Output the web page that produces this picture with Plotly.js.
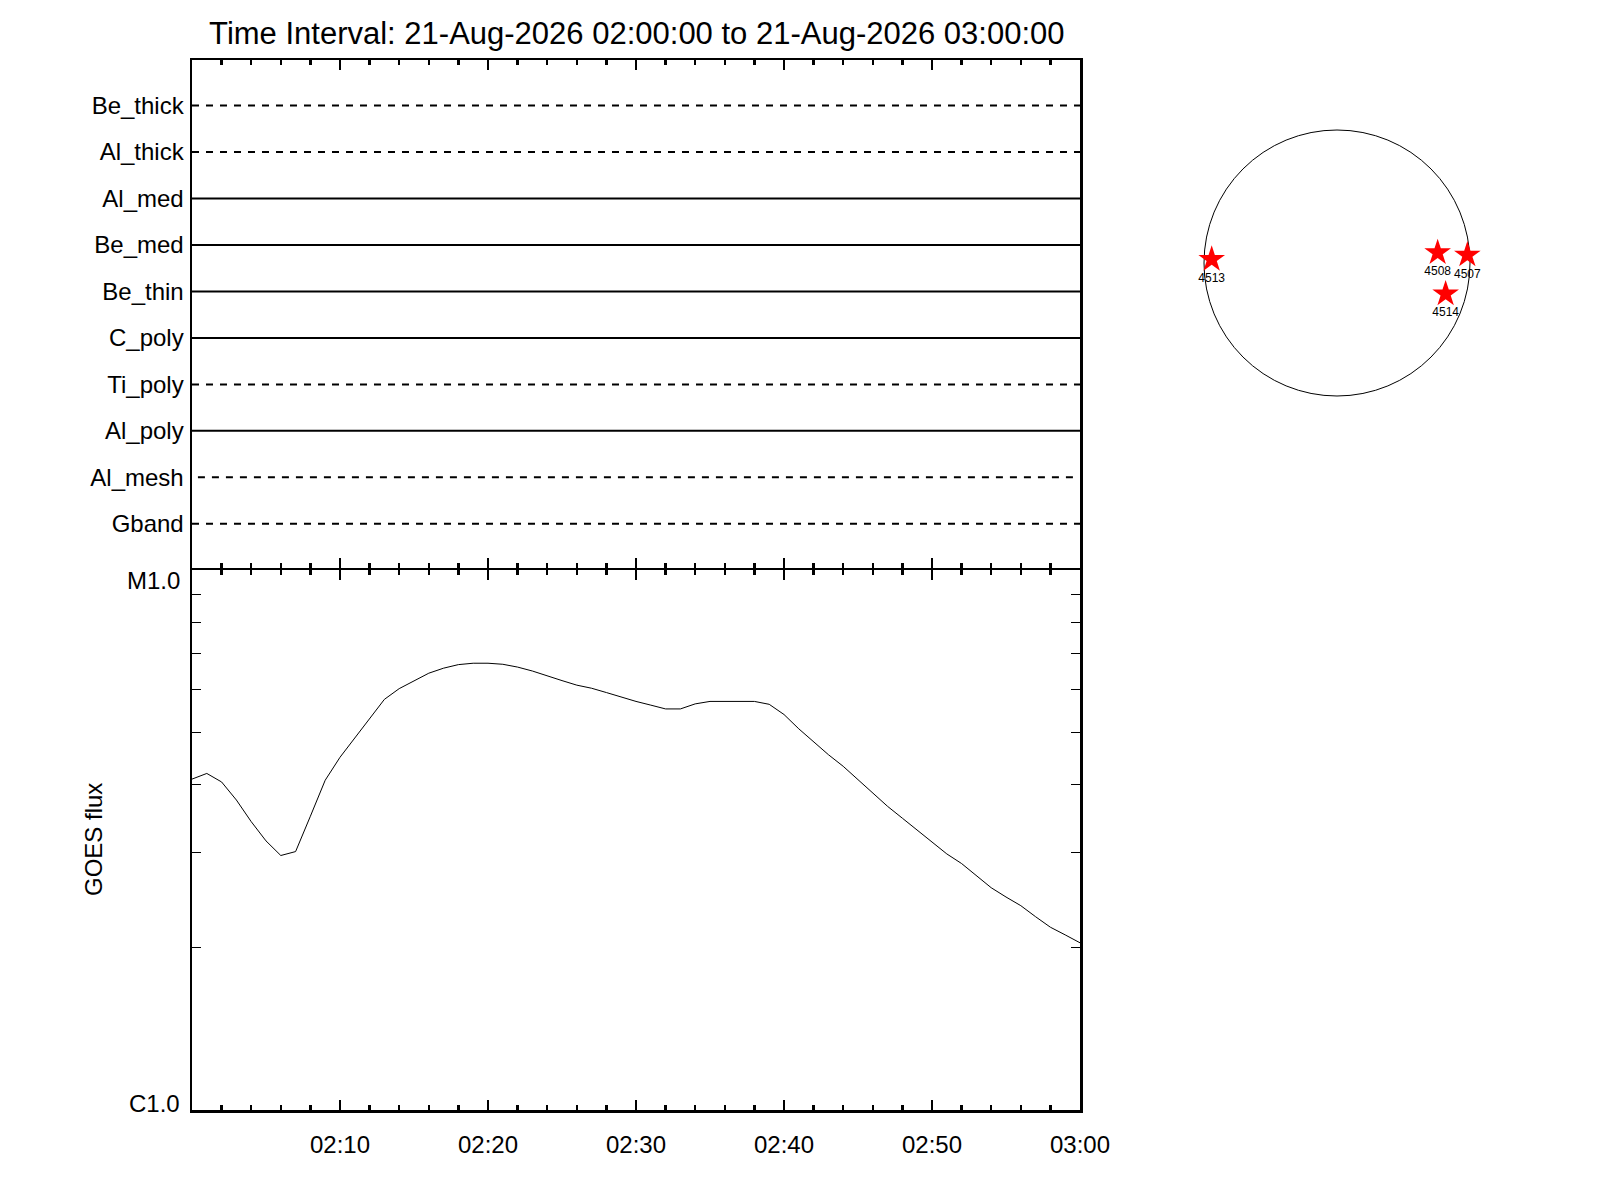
<!DOCTYPE html>
<html>
<head>
<meta charset="utf-8">
<script src="https://cdn.plot.ly/plotly-3.0.1.min.js"></script>
<style>
  html, body { margin: 0; padding: 0; background: #fff; }
  #plot { width: 1600px; height: 1200px; }
</style>
</head>
<body>
<div id="plot"></div>
<script>
// ----- data -----
const detectorNames  = ["Be_thick", "Al_thick", "Al_med", "Be_med", "Be_thin",
                        "C_poly", "Ti_poly", "Al_poly", "Al_mesh", "Gband"];
const detectorStart  = [0, 0, 0, 0, 0, 0, 0, 0, 0.4, 0];    // minutes after 02:00
const detectorEnd    = [60, 60, 60, 60, 60, 60, 60, 60, 59.7, 60];

// GOES flux, one sample per minute after 02:00 (W/m^2)
const goesMinutes = [0, 1, 2, 3, 4, 5, 6, 7, 8, 9, 10, 11, 12, 13, 14, 15, 16, 17, 18, 19,
                     20, 21, 22, 23, 24, 25, 26, 27, 28, 29, 30, 31, 32, 33, 34, 35, 36, 37, 38, 39,
                     40, 41, 42, 43, 44, 45, 46, 47, 48, 49, 50, 51, 52, 53, 54, 55, 56, 57, 58, 59, 60];
const goesFlux = [4.10e-6, 4.20e-6, 4.05e-6, 3.75e-6, 3.42e-6, 3.15e-6, 2.96e-6, 3.01e-6, 3.50e-6, 4.08e-6,
                  4.50e-6, 4.88e-6, 5.32e-6, 5.76e-6, 6.03e-6, 6.24e-6, 6.44e-6, 6.58e-6, 6.68e-6, 6.72e-6,
                  6.72e-6, 6.69e-6, 6.61e-6, 6.50e-6, 6.36e-6, 6.24e-6, 6.12e-6, 6.04e-6, 5.93e-6, 5.81e-6,
                  5.71e-6, 5.62e-6, 5.53e-6, 5.53e-6, 5.65e-6, 5.71e-6, 5.71e-6, 5.71e-6, 5.71e-6, 5.64e-6,
                  5.40e-6, 5.08e-6, 4.80e-6, 4.55e-6, 4.33e-6, 4.09e-6, 3.86e-6, 3.65e-6, 3.47e-6, 3.30e-6,
                  3.13e-6, 2.98e-6, 2.86e-6, 2.72e-6, 2.58e-6, 2.48e-6, 2.39e-6, 2.28e-6, 2.18e-6, 2.11e-6, 2.04e-6];

const majorTickLabels = ["02:10", "02:20", "02:30", "02:40", "02:50", "03:00"];
const minorTickMinutes = [2, 4, 6, 8, 12, 14, 16, 18, 22, 24, 26, 28, 32, 34, 36, 38,
                          42, 44, 46, 48, 52, 54, 56, 58];
const fluxMinorTicks = [2e-6, 3e-6, 4e-6, 5e-6, 6e-6, 7e-6, 8e-6, 9e-6];

// active regions on the disk (arcsec)
const regionIds = ["4513", "4508", "4507", "4514"];
const regionX   = [-895, 719, 931, 776];
const regionY   = [26, 74, 57, -221];
const solarRadius = 950;

// ----- helpers -----
const DAY = "2026-08-21";
const T0 = Date.UTC(2026, 7, 21, 2, 0, 0);
function tAt(min) {
  return new Date(T0 + min * 60000).toISOString().replace("T", " ").slice(0, 19);
}
const FONT = "Liberation Sans, Arial, sans-serif";
const SOLID_DETECTORS = ["Al_med", "Be_med", "Be_thin", "C_poly", "Al_poly"];

// ----- traces -----
const traces = [];

// detector lines (upper panel)
detectorNames.forEach((name, i) => {
  traces.push({
    type: "scatter", mode: "lines",
    x: [tAt(detectorStart[i]), tAt(detectorEnd[i])],
    y: [i, i],
    xaxis: "x2", yaxis: "y2",
    line: { color: "#000", width: 2, dash: SOLID_DETECTORS.includes(name) ? "solid" : "7px,7px" },
    hoverinfo: "skip"
  });
});

// GOES curve (lower panel)
traces.push({
  type: "scatter", mode: "lines",
  x: goesMinutes.map(tAt),
  y: goesFlux,
  xaxis: "x", yaxis: "y",
  line: { color: "#000", width: 1 },
  hoverinfo: "skip"
});

// solar disk markers
traces.push({
  type: "scatter", mode: "markers+text",
  x: regionX, y: regionY, text: regionIds,
  xaxis: "x3", yaxis: "y3",
  marker: { symbol: "star", size: 20, color: "#ff0000", line: { width: 0 } },
  textposition: "bottom center",
  textfont: { size: 12, color: "#000", family: FONT },
  cliponaxis: false,
  hoverinfo: "skip"
});

// ----- axes -----
const tickVals = majorTickLabels.map(l => DAY + " " + l + ":00");
const minorVals = minorTickMinutes.map(tAt);

const timeAxis = {
  type: "date",
  range: [tAt(0), tAt(60)],
  domain: [0.12, 0.675],
  tickmode: "array", tickvals: tickVals, ticktext: majorTickLabels,
  ticks: "inside", ticklen: 10, tickwidth: 2.5, tickcolor: "#000",
  minor: { tickmode: "array", tickvals: minorVals, ticks: "inside", ticklen: 5,
           tickwidth: 2.5, tickcolor: "#000", showgrid: false },
  showline: true, linewidth: 2.5, linecolor: "#000", mirror: "ticks",
  showgrid: false, zeroline: false,
  ticklabelstandoff: 12,
  tickfont: { size: 24, color: "#000", family: FONT }
};

const layout = {
  width: 1600, height: 1200,
  margin: { l: 0, r: 0, t: 0, b: 0 },
  paper_bgcolor: "#fff", plot_bgcolor: "#fff",
  showlegend: false, hovermode: false,
  font: { family: FONT, color: "#000" },
  title: {
    text: "Time Interval: 21-Aug-2026 02:00:00 to 21-Aug-2026 03:00:00",
    font: { size: 31, color: "#000", family: FONT },
    x: 0.398, xanchor: "center", y: 0.9725, yanchor: "middle"
  },
  xaxis: Object.assign({}, timeAxis, { anchor: "y" }),
  xaxis2: Object.assign({}, timeAxis, { anchor: "y2", showticklabels: false, matches: "x" }),
  yaxis: {
    domain: [0.075, 0.525], anchor: "x",
    type: "log", range: [-6, -5],
    tickmode: "array", tickvals: fluxMinorTicks,
    ticks: "inside", ticklen: 9, tickwidth: 1.2, tickcolor: "#000",
    showticklabels: false,
    showline: true, linewidth: 2.5, linecolor: "#000", mirror: "ticks",
    showgrid: false, zeroline: false
  },
  yaxis2: {
    domain: [632.5 / 1200, 0.95], anchor: "x2",
    range: [9.94, -0.98],
    tickmode: "array", tickvals: detectorNames.map((_, i) => i), ticktext: detectorNames,
    ticks: "", ticklabelstandoff: 1,
    tickfont: { size: 24, color: "#000", family: FONT },
    showline: true, linewidth: 2.5, linecolor: "#000", mirror: true,
    showgrid: false, zeroline: false
  },
  xaxis3: { domain: [1183 / 1600, 1491 / 1600], anchor: "y3", range: [-1100, 1100], visible: false },
  yaxis3: { domain: [783 / 1200, 1091 / 1200], anchor: "x3", range: [-1100, 1100], visible: false },
  shapes: [{
    type: "circle", xref: "x3", yref: "y3",
    x0: -solarRadius, x1: solarRadius, y0: -solarRadius, y1: solarRadius,
    line: { color: "#000", width: 1 }, layer: "below"
  }],
  annotations: [
    { text: "GOES flux", xref: "paper", yref: "paper", x: 93 / 1600, y: 0.3,
      xanchor: "center", yanchor: "middle",
      textangle: -90, showarrow: false, font: { size: 24, color: "#000", family: FONT } },
    { text: "M1.0", xref: "paper", yref: "y", x: 182 / 1600, y: -5, xanchor: "right",
      yanchor: "middle", yshift: -10, showarrow: false, font: { size: 24, color: "#000", family: FONT } },
    { text: "C1.0", xref: "paper", yref: "y", x: 182 / 1600, y: -6, xanchor: "right",
      yanchor: "middle", yshift: 7, showarrow: false, font: { size: 24, color: "#000", family: FONT } }
  ]
};

Plotly.newPlot("plot", traces, layout, { staticPlot: true, displayModeBar: false });
</script>
</body>
</html>
